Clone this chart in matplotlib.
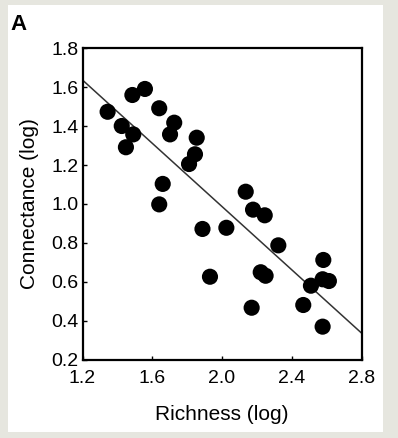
import numpy as np
import matplotlib
matplotlib.use('Agg')
import matplotlib.pyplot as plt
from matplotlib.patches import Rectangle

# values
richness = [1.344, 1.425, 1.491, 1.449, 1.486, 1.558, 1.640, 1.726, 1.702, 1.855,
            1.845, 1.811, 1.660, 1.640, 1.888, 2.025, 2.136, 2.178, 2.245, 2.323,
            1.931, 2.222, 2.250, 2.170, 2.581, 2.510, 2.577, 2.613, 2.466, 2.577]
connectance = [1.473, 1.400, 1.357, 1.291, 1.559, 1.590, 1.491, 1.417, 1.357, 1.340,
               1.255, 1.205, 1.103, 0.998, 0.872, 0.878, 1.063, 0.971, 0.942, 0.788,
               0.627, 0.650, 0.632, 0.468, 0.713, 0.581, 0.614, 0.605, 0.482, 0.371]
fit_intercept = 2.609
fit_slope = -0.811
xticks = [1.2, 1.6, 2.0, 2.4, 2.8]
xtick_labels = ['1.2', '1.6', '2.0', '2.4', '2.8']
yticks = [0.2, 0.4, 0.6, 0.8, 1.0, 1.2, 1.4, 1.6, 1.8]
ytick_labels = ['0.2', '0.4', '0.6', '0.8', '1.0', '1.2', '1.4', '1.6', '1.8']

plt.rcParams['font.family'] = ['Liberation Sans', 'DejaVu Sans']
narrow = ['Liberation Sans Narrow', 'Liberation Sans']

fig = plt.figure(figsize=(3.98, 4.38), dpi=100, facecolor='#e6e6df')
# white card behind the panel
fig.patches.append(Rectangle((8/398, 1-432/438), 375/398, 427/438,
                             transform=fig.transFigure, facecolor='white',
                             edgecolor='none', zorder=-5))

ax = fig.add_axes([0.2073, 0.1781, 0.701, 0.7123])
ax.set_zorder(2)
ax.set_facecolor('white')

xs = np.array(xticks[::4])
ax.plot(xs, fit_intercept + fit_slope*xs, color='#333333', lw=1.1, zorder=2)
ax.scatter(richness, connectance, s=135, c='black', edgecolors='none', zorder=3)

ax.set_xlim(1.2, 2.8)
ax.set_ylim(0.2, 1.8)
ax.set_xticks(xticks)
ax.set_xticklabels(xtick_labels, family=narrow, fontsize=14)
ax.set_yticks(yticks)
ax.set_yticklabels(ytick_labels, family=narrow, fontsize=14)
ax.tick_params(direction='in', length=3, width=1, colors='black')
ax.tick_params(axis='x', pad=7)
ax.tick_params(axis='y', pad=3)
for sp in ax.spines.values():
    sp.set_linewidth(1.6)

ax.set_xlabel('Richness (log)', fontsize=15, labelpad=13)
ax.set_ylabel('Connectance (log)', fontsize=15, labelpad=9)

fig.text(10/398, 1-25/438, 'A', fontsize=16, fontweight='bold', va='center', ha='left')

fig.savefig('out.png', dpi=100, facecolor=fig.get_facecolor())
